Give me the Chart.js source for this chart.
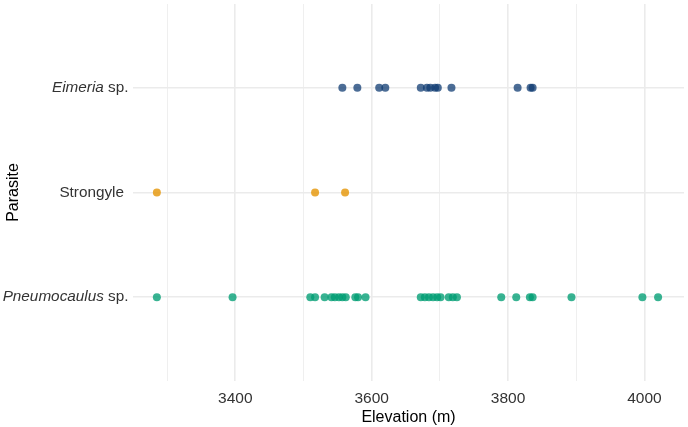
<!DOCTYPE html>
<html>
<head>
<meta charset="utf-8">
<script src="https://cdn.jsdelivr.net/npm/chart.js@4/dist/chart.umd.min.js"></script>
<style>
  html, body { margin: 0; padding: 0; background: #fff; }
  #wrap { width: 688px; height: 427px; position: relative; }
</style>
</head>
<body>
<div id="wrap"><canvas id="c" width="688" height="427"></canvas></div>
<script>
// ---- Data ----
const categories = ["Pneumocaulus sp.", "Strongyle", "Eimeria sp."]; // bottom -> top
const categoryItalic = ["Pneumocaulus", "", "Eimeria"];
const categoryPlain = [" sp.", "Strongyle", " sp."];

const eimeriaElev = [3557, 3579, 3611, 3620, 3672, 3681, 3686, 3693, 3697, 3717, 3814, 3833, 3836];
const strongyleElev = [3285, 3517, 3561];
const pneumocaulusElev = [3285, 3396, 3510, 3517, 3531, 3541, 3546, 3552, 3557, 3562, 3576, 3580, 3591,
  3672, 3678, 3684, 3690, 3696, 3701, 3713, 3719, 3725, 3790, 3812, 3832, 3836, 3893, 3997, 4020];

const xTickValues = [3300, 3400, 3500, 3600, 3700, 3800, 3900, 4000];
const xLabelValues = [3400, 3600, 3800, 4000];

const xTitle = "Elevation (m)";
const yTitle = "Parasite";

function toPoints(arr, level) { return arr.map(v => ({ x: v, y: level })); }

const FONT = "'Liberation Sans', Arial, sans-serif";

const yLabelPlugin = {
  id: 'yLabels',
  afterDraw(chart) {
    const ctx = chart.ctx;
    const ys = chart.scales.y;
    ctx.save();
    ctx.fillStyle = '#333333';
    ctx.textBaseline = 'middle';
    categories.forEach((c, i) => {
      const py = ys.getPixelForValue(i + 1);
      const it = categoryItalic[i], pl = categoryPlain[i];
      const rightX = it ? 128.5 : 124;
      ctx.font = "15.3px " + FONT;
      const wPl = ctx.measureText(pl).width;
      ctx.textAlign = 'left';
      ctx.fillText(pl, rightX - wPl, py);
      if (it) {
        ctx.font = "italic 15.3px " + FONT;
        const wIt = ctx.measureText(it).width;
        ctx.fillText(it, rightX - wPl - wIt, py);
      }
    });
    // y axis title
    ctx.font = "16px " + FONT;
    ctx.fillStyle = '#000000';
    ctx.translate(14, (chart.chartArea.top + chart.chartArea.bottom) / 2);
    ctx.rotate(-Math.PI / 2);
    ctx.textAlign = 'center';
    ctx.fillText(yTitle, 0, 0);
    ctx.restore();
  }
};

new Chart(document.getElementById('c'), {
  type: 'scatter',
  data: {
    datasets: [
      { label: categories[2], data: toPoints(eimeriaElev, 3), backgroundColor: 'rgba(16,60,115,0.75)', borderWidth: 0, pointRadius: 4 },
      { label: categories[1], data: toPoints(strongyleElev, 2), backgroundColor: 'rgba(230,155,20,0.85)', borderWidth: 0, pointRadius: 4 },
      { label: categories[0], data: toPoints(pneumocaulusElev, 1), backgroundColor: 'rgba(0,158,115,0.78)', borderWidth: 0, pointRadius: 4 }
    ]
  },
  options: {
    responsive: false,
    animation: false,
    layout: { padding: { top: 2, right: 0, bottom: 0, left: 0 } },
    plugins: { legend: { display: false }, tooltip: { enabled: false } },
    scales: {
      x: {
        type: 'linear',
        min: 3250,
        max: 4058,
        border: { display: false },
        afterBuildTicks(s) { s.ticks = xTickValues.map(v => ({ value: v })); },
        afterFit(s) { s.height = 46; },
        grid: {
          drawTicks: false,
          color: '#ebebeb',
          lineWidth: ctx => (ctx.tick && xLabelValues.includes(ctx.tick.value)) ? 1.6 : 0.8
        },
        ticks: {
          padding: 8,
          autoSkip: false,
          maxRotation: 0,
          color: '#333333',
          font: { family: FONT, size: 15.5 },
          callback: v => xLabelValues.includes(v) ? String(v) : ''
        },
        title: {
          display: true,
          text: xTitle,
          color: '#000000',
          font: { family: FONT, size: 16 },
          padding: { top: 0, bottom: 0 }
        }
      },
      y: {
        type: 'linear',
        min: 0.2,
        max: 3.8,
        border: { display: false },
        afterBuildTicks(s) { s.ticks = [1, 2, 3].map(v => ({ value: v })); },
        afterFit(s) { s.width = 133; },
        grid: { drawTicks: false, color: '#ebebeb', lineWidth: 1.6 },
        ticks: { display: false }
      }
    }
  },
  plugins: [yLabelPlugin]
});
</script>
</body>
</html>
